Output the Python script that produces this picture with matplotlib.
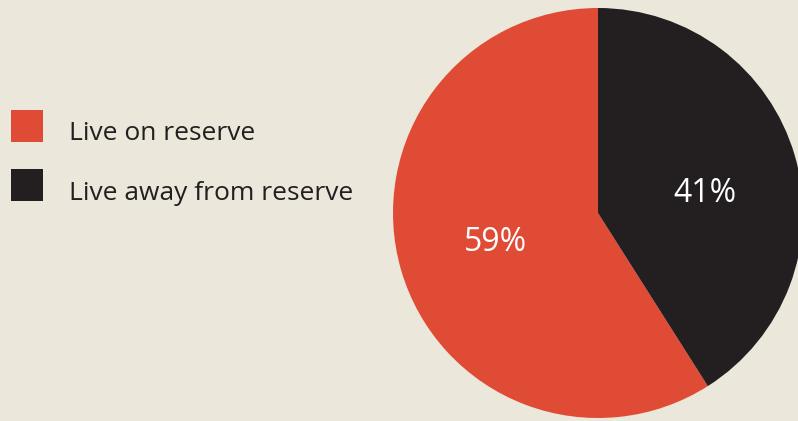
import matplotlib.pyplot as plt
from matplotlib.patches import Rectangle

# datos
categorias = ["Live on reserve", "Live away from reserve"]
porcentajes = [59, 41]
colores = ["#e04b35", "#231f20"]
fondo = "#ebe7da"

plt.rcParams["font.family"] = ["Open Sans", "DejaVu Sans"]

fig = plt.figure(figsize=(7.98, 4.21), dpi=100, facecolor=fondo)
ax = fig.add_axes([0, 0, 1, 1])

# torta, empieza arriba y gira a la izquierda
wedges, textos, pct = ax.pie(
    porcentajes,
    colors=colores,
    startangle=90,
    counterclock=True,
    center=(598, 208),
    radius=205,
    autopct=lambda p: f"{round(p)}%",
    pctdistance=0.52,
    textprops={"color": "white", "fontsize": 23},
    frame=True,
)
# bajo un poco la etiqueta del 41%
x, y = pct[1].get_position()
pct[1].set_position((x + 5, y - 10))

ax.set_xlim(0, 798)
ax.set_ylim(0, 421)
ax.set_aspect("equal")
ax.axis("off")

# leyenda manual
for i, (cat, col) in enumerate(zip(categorias, colores)):
    y = 295 - i * 59
    ax.add_patch(Rectangle((11, y - 16), 32, 32, facecolor=col, edgecolor="none"))
    ax.text(69, y - 8, cat, fontsize=19, color="#231f20", va="center", ha="left")

fig.savefig("out.png", dpi=100, facecolor=fondo)
